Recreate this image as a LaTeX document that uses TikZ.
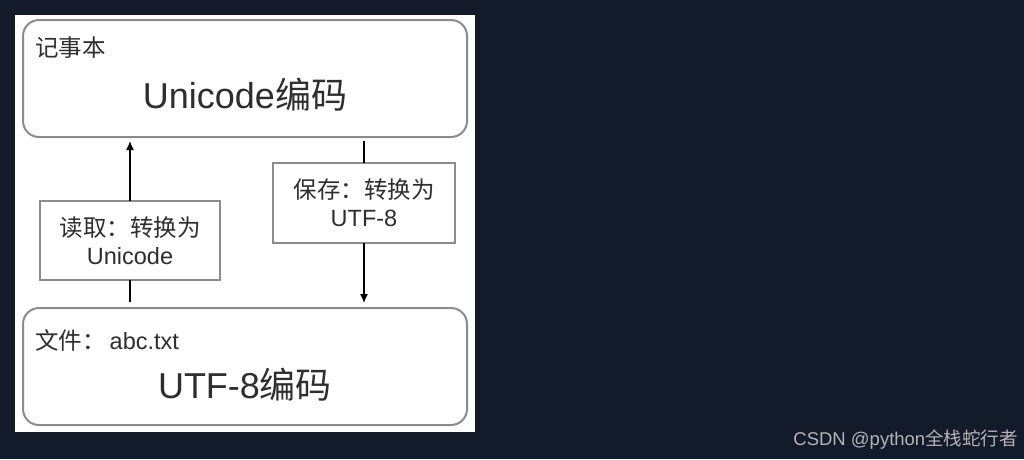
\documentclass[tikz,border=0pt]{standalone}
\usepackage{fontspec}
\setmainfont{Liberation Sans}
\newfontfamily\cjk{Noto Sans CJK SC}
\usetikzlibrary{arrows.meta}
\definecolor{bgdark}{HTML}{131A2A}
\definecolor{boxgray}{HTML}{8C8C8C}
\definecolor{txtgray}{HTML}{2E2E2E}
\definecolor{wmgray}{HTML}{B4B4B4}
\tikzset{
  bigbox/.style={draw=boxgray, line width=2pt, rounded corners=16pt, fill=white,
    minimum width=444pt, minimum height=117pt, inner sep=0pt, outer sep=0pt},
  labelbox/.style={draw=boxgray, line width=2pt, fill=white, inner sep=0pt, outer sep=0pt,
    align=center, text=txtgray, font=\fontsize{23.5}{28}\selectfont},
  smalltext/.style={text=txtgray, font=\fontsize{23.5}{26}\selectfont, inner sep=0pt, anchor=west},
  bigtext/.style={text=txtgray, font=\fontsize{36}{40}\selectfont, inner sep=0pt},
  conn/.style={black, line width=1.3pt},
  arrowconn/.style={conn, -{Latex[length=9pt,width=8pt]}},
}
\begin{document}
\begin{tikzpicture}[x=1pt,y=-1pt]
\fill[bgdark] (0,0) rectangle (1024,459);
\useasboundingbox (0,0) rectangle (1024,459);
\fill[white] (15,15) rectangle (475,432);
% main boxes
\node[bigbox] (note) at (245,78.5) {};
\node[bigbox] (file) at (245,366.5) {};
\node[smalltext] (notetitle) at (35,48) {\cjk 记事本};
\node[bigtext] (notecode) at (245,95) {Unicode{\cjk 编码}};
\node[smalltext] (filetitle) at (35,340) {{\cjk 文件：}\hspace{4pt}abc.txt};
\node[bigtext] (filecode) at (245,385) {UTF-8{\cjk 编码}};
% label boxes
\node[labelbox, minimum width=180pt, minimum height=79pt] (readbox) at (130,240.5)
  {{\cjk 读取：转换为}\\Unicode};
\node[labelbox, minimum width=182pt, minimum height=80pt] (savebox) at (364,203)
  {{\cjk 保存：转换为}\\UTF-8};
% connectors
\draw[arrowconn, shorten >=4pt] (readbox.north) -- (readbox.north |- note.south);
\draw[conn, shorten <=6pt] (readbox.south |- file.north) -- (readbox.south);
\draw[conn, shorten <=4pt] (savebox.north |- note.south) -- (savebox.north);
\draw[arrowconn, shorten >=5pt] (savebox.south) -- (savebox.south |- file.north);
% watermark
\node[anchor=east, text=wmgray, font=\fontsize{18.5}{21}\selectfont, inner sep=0pt] (wm) at (1018,440)
  {CSDN @python{\cjk 全栈蛇行者}};
\end{tikzpicture}
\end{document}
